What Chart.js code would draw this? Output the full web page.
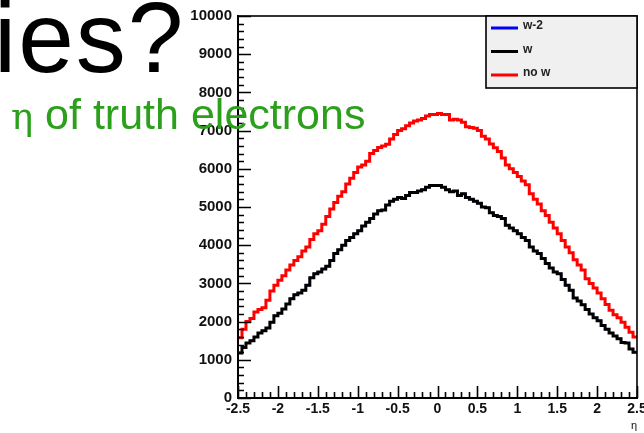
<!DOCTYPE html>
<html>
<head>
<meta charset="utf-8">
<script src="https://cdn.jsdelivr.net/npm/chart.js@4.4.0/dist/chart.umd.min.js"></script>
<style>
  html, body { margin: 0; padding: 0; background: #fff; overflow: hidden; }
  #wrap { position: relative; width: 644px; height: 433px; }
  #plot { position: absolute; left: 0; top: 0; }
  .big-title {
    position: absolute; left: -6px; top: -13px;
    font: 100px "Liberation Sans", Arial, sans-serif; line-height: 1;
    letter-spacing: 2px; color: #000; white-space: nowrap;
  }
  .caption {
    position: absolute; left: 11px; top: 93px;
    font: 43px "Liberation Sans", Arial, sans-serif; line-height: 1;
    color: #2ca01c; white-space: nowrap;
  }
  .caption .eta { font-family: "DejaVu Serif", "Liberation Serif", serif; font-size: 37px; }
</style>
</head>
<body>
<div id="wrap">
  <canvas id="plot" width="644" height="433"></canvas>
  <div class="big-title">ies?</div>
  <div class="caption"><span class="eta">η</span> of truth electrons</div>
</div>
<script>
// eta histograms, 100 bins from -2.5 to 2.5
const binLow = -2.5;
const binWidth = 0.05;

const xTickValues = [-2.5, -2, -1.5, -1, -0.5, 0, 0.5, 1, 1.5, 2, 2.5];
const xTickLabels = ['-2.5', '-2', '-1.5', '-1', '-0.5', '0', '0.5', '1', '1.5', '2', '2.5'];
const yTickValues = [0, 1000, 2000, 3000, 4000, 5000, 6000, 7000, 8000, 9000, 10000];
const yTickLabels = ['0', '1000', '2000', '3000', '4000', '5000', '6000', '7000', '8000', '9000', '10000'];

const seriesNames = ['w-2', 'w', 'no w'];
const seriesColors = ['#0000ff', '#000000', '#ff0000'];

const noW = [
  1580, 1800, 2000, 2080, 2250, 2320, 2360, 2560, 2800, 2950,
  3080, 3200, 3350, 3480, 3600, 3700, 3850, 3950, 4150, 4300,
  4380, 4550, 4750, 4950, 5120, 5280, 5400, 5600, 5750, 5900,
  6050, 6100, 6200, 6400, 6480, 6560, 6600, 6640, 6780, 6900,
  7000, 7050, 7130, 7200, 7250, 7280, 7320, 7380, 7420, 7420,
  7450, 7420, 7420, 7280, 7300, 7280, 7220, 7100, 7080, 7060,
  7000, 6850, 6780, 6650, 6550, 6450, 6280, 6100, 6000, 5900,
  5800, 5680, 5580, 5350, 5200, 5080, 4900, 4780, 4600, 4450,
  4300, 4120, 3950, 3800, 3620, 3480, 3350, 3120, 3000, 2880,
  2750, 2600, 2450, 2300, 2180, 2100, 1980, 1850, 1720, 1600
];

const w = [
  1180, 1320, 1440, 1500, 1600, 1700, 1760, 1830, 1980, 2150,
  2220, 2330, 2460, 2600, 2700, 2750, 2820, 2950, 3150, 3250,
  3300, 3380, 3450, 3600, 3780, 3880, 4000, 4120, 4200, 4300,
  4380, 4500, 4600, 4700, 4820, 4900, 4920, 5050, 5150, 5200,
  5250, 5220, 5300, 5380, 5380, 5420, 5450, 5520, 5560, 5560,
  5560, 5520, 5450, 5400, 5420, 5300, 5350, 5250, 5200, 5150,
  5100, 5000, 4980, 4850, 4780, 4750, 4700, 4520, 4450, 4380,
  4300, 4200, 4120, 3950, 3850, 3780, 3650, 3520, 3400, 3300,
  3250, 3100, 2950, 2820, 2620, 2540, 2440, 2320, 2200, 2100,
  2020, 1900, 1800, 1700, 1620, 1550, 1450, 1440, 1280, 1200
];

// w-2 sits exactly under the w histogram
const wMinus2 = w.slice();

const FONT = '"Liberation Sans", Arial, Helvetica, sans-serif';
Chart.defaults.font.family = FONT;

// left bin edges, plus the closing edge so the last bin is drawn full width
function histPoints(counts) {
  const pts = counts.map((c, i) => ({ x: binLow + i * binWidth, y: c }));
  pts.push({ x: binLow + counts.length * binWidth, y: counts[counts.length - 1] });
  return pts;
}

// ROOT style: ticks pointing into the frame, box around the pad
const frameTicks = {
  id: 'frameTicks',
  afterDatasetsDraw(chart) {
    const { ctx, chartArea: a, scales: { x, y } } = chart;
    ctx.save();
    ctx.strokeStyle = '#000';
    ctx.lineWidth = 1.6;
    ctx.beginPath();
    for (let i = 0; i <= 50; i++) {
      const px = Math.round(x.getPixelForValue(-2.5 + i * 0.1)) + 0.5;
      const len = i % 5 === 0 ? 12 : 6;
      ctx.moveTo(px, a.bottom);
      ctx.lineTo(px, a.bottom - len);
    }
    for (let i = 0; i <= 50; i++) {
      const py = Math.round(y.getPixelForValue(i * 200)) + 0.5;
      const len = i % 5 === 0 ? 13 : 6;
      ctx.moveTo(a.left, py);
      ctx.lineTo(a.left + len, py);
    }
    ctx.stroke();
    ctx.strokeRect(a.left, a.top, a.right - a.left, a.bottom - a.top);
    ctx.restore();
  }
};

// grey legend box in the top right corner of the pad
const boxLegend = {
  id: 'boxLegend',
  afterDraw(chart) {
    const { ctx, chartArea: a } = chart;
    const bw = 151, bh = 72;
    const left = a.right - bw, top = a.top;
    ctx.save();
    ctx.fillStyle = '#f0f0f0';
    ctx.fillRect(left, top, bw, bh);
    ctx.strokeStyle = '#000';
    ctx.lineWidth = 1.6;
    ctx.strokeRect(left, top, bw, bh);
    ctx.font = 'bold 12px ' + FONT;
    ctx.textBaseline = 'middle';
    chart.data.datasets.forEach((ds, i) => {
      const yy = top + 12 + i * 23.5;
      ctx.strokeStyle = ds.borderColor;
      ctx.lineWidth = 3;
      ctx.beginPath();
      ctx.moveTo(left + 5, yy);
      ctx.lineTo(left + 32, yy);
      ctx.stroke();
      ctx.fillStyle = '#222';
      ctx.fillText(ds.label, left + 37, yy - 2);
    });
    ctx.restore();
  }
};

const allSeries = [wMinus2, w, noW];

new Chart(document.getElementById('plot'), {
  type: 'line',
  data: {
    datasets: allSeries.map((counts, i) => ({
      label: seriesNames[i],
      data: histPoints(counts),
      borderColor: seriesColors[i],
      // the hidden w-2 line is kept thinner so it never bleeds past w
      borderWidth: i === 0 ? 2 : 3,
      stepped: 'before',
      pointRadius: 0,
      fill: false,
      borderJoinStyle: 'miter',
      borderCapStyle: 'butt',
      order: i === 0 ? 3 : (i === 1 ? 1 : 2)
    }))
  },
  options: {
    responsive: false,
    animation: false,
    events: [],
    layout: { padding: { top: 16, right: 7, left: 0, bottom: 0 } },
    plugins: { legend: { display: false }, tooltip: { enabled: false } },
    scales: {
      x: {
        type: 'linear',
        min: -2.5,
        max: 2.5,
        afterBuildTicks: s => { s.ticks = xTickValues.map(v => ({ value: v })); },
        afterFit: s => { s.height = 35; s.paddingLeft = 0; s.paddingRight = 0; },
        ticks: {
          autoSkip: false,
          maxRotation: 0,
          padding: 3,
          color: '#111',
          font: { size: 14, weight: 'bold' },
          callback: (v, i) => xTickLabels[i]
        },
        grid: { display: false, drawTicks: false },
        border: { display: true, color: '#000', width: 2 },
        title: { display: true, text: 'η', align: 'end', color: '#111', font: { size: 11 }, padding: { top: 0, bottom: 0 } }
      },
      y: {
        type: 'linear',
        min: 0,
        max: 10000,
        afterBuildTicks: s => { s.ticks = yTickValues.map(v => ({ value: v })); },
        afterFit: s => { s.width = 238; },
        ticks: {
          padding: 6,
          color: '#111',
          font: { size: 15, weight: 'bold' },
          callback: (v, i) => yTickLabels[i]
        },
        grid: { display: false, drawTicks: false },
        border: { display: true, color: '#000', width: 2 }
      }
    }
  },
  plugins: [frameTicks, boxLegend]
});
</script>
</body>
</html>
